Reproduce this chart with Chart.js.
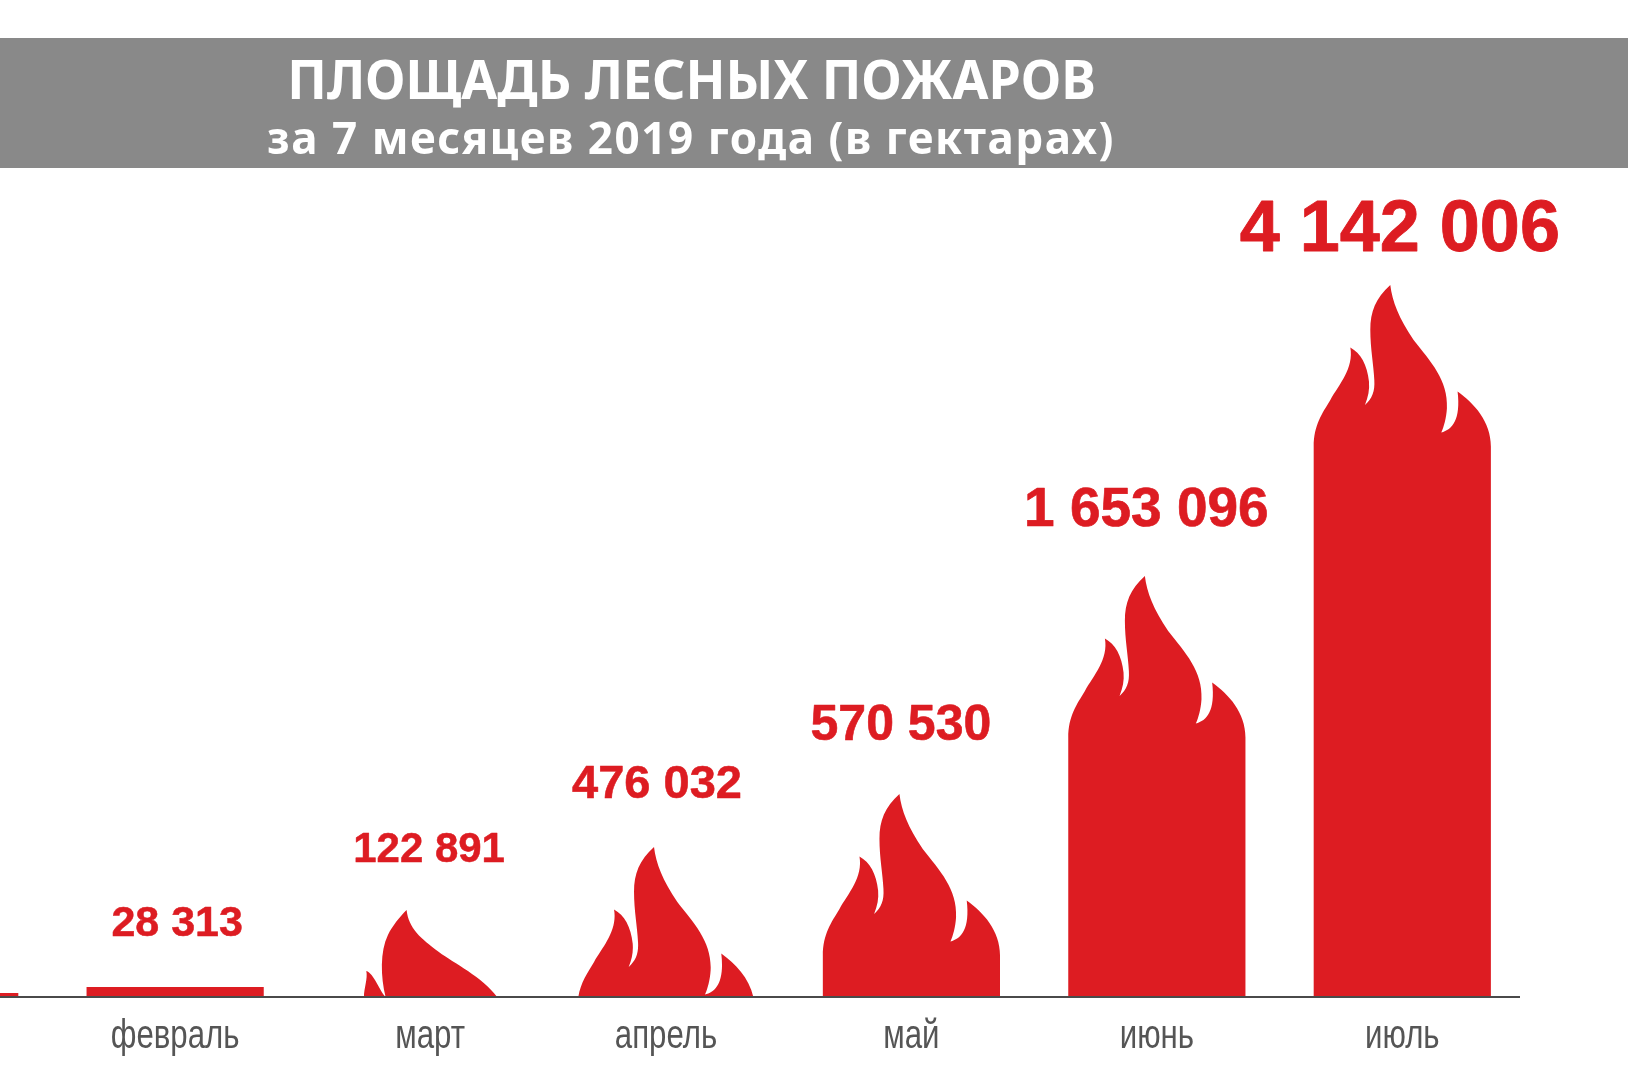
<!DOCTYPE html>
<html>
<head>
<meta charset="utf-8">
<style>
    html, body { margin: 0; padding: 0; background: #fff; overflow: hidden; }
    /* the picture is cropped on the left: January only just shows, so the canvas hangs off the page */
    #chart { position: absolute; left: -193px; top: 0; }
</style>
<script src="https://cdn.jsdelivr.net/npm/chart.js@4/dist/chart.umd.js"></script>
</head>
<body>
<canvas id="chart" width="1821" height="1080"></canvas>
<script>
// DATA
const months = ['январь', 'февраль', 'март', 'апрель', 'май', 'июнь', 'июль'];
// printed numbers, hectares (January's number is cropped out of the picture)
const areaHectares = [null, 28313, 122891, 476032, 570530, 1653096, 4142006];
// height of each flame: it is not to scale with the printed numbers
const flameLevels = [4, 10, 87, 150, 203, 421, 712];
const titleLines = ['ПЛОЩАДЬ ЛЕСНЫХ ПОЖАРОВ', 'за 7 месяцев 2019 года (в гектарах)'];

// STYLE
const RED = '#dd1c22';
const GREY = '#555555';
const CANVAS_LEFT = 193;
const labelSizes = [0, 43, 42, 47, 50, 55, 72];
const labelShift = [0, 2, 8.5, -9, -10.5, -10.5, -2.5];
const labelGap = [0, 51, 48, 49, 54, 50, 34];
const tickShift = [0, 0, 9.5, 0, 0, 0, 0];

// flame crown, in units of 1/532 of a bar width, origin on the bar centre at the tip height
function crownPath(ctx, bottom) {
    ctx.moveTo(-266, bottom);
    ctx.lineTo(-266, 485);
    ctx.bezierCurveTo(-266, 420, -240, 385, -216, 345);
    ctx.bezierCurveTo(-190, 300, -145, 250, -156, 188);
    ctx.bezierCurveTo(-125, 205, -105, 240, -100, 290);
    ctx.bezierCurveTo(-98, 315, -102, 335, -112, 360);
    ctx.bezierCurveTo(-90, 340, -82, 320, -84, 285);
    ctx.bezierCurveTo(-86, 240, -96, 190, -96, 135);
    ctx.bezierCurveTo(-96, 80, -80, 40, -36, 0);
    ctx.bezierCurveTo(-30, 50, -10, 100, 34, 165);
    ctx.bezierCurveTo(85, 230, 138, 285, 134, 370);
    ctx.bezierCurveTo(132, 400, 125, 425, 117, 443);
    ctx.bezierCurveTo(150, 435, 176, 405, 166, 320);
    ctx.bezierCurveTo(215, 355, 266, 410, 266, 485);
    ctx.lineTo(266, bottom);
    ctx.closePath();
}

// the low flame of march has its own outline
function lowFlamePath(ctx, bottom) {
    ctx.moveTo(-42, 0);
    ctx.bezierCurveTo(-36, 55, 0, 85, 55, 126);
    ctx.bezierCurveTo(100, 160, 185, 200, 230, bottom);
    ctx.lineTo(-105, bottom);
    ctx.bezierCurveTo(-120, 200, -122, 125, -98, 75);
    ctx.bezierCurveTo(-85, 48, -62, 20, -42, 0);
    ctx.closePath();
    ctx.moveTo(-105, bottom);
    ctx.bezierCurveTo(-125, 240, -140, 190, -163, 183);
    ctx.bezierCurveTo(-158, 205, -170, 235, -170, bottom);
    ctx.closePath();
}

const flamePlugin = {
    id: 'flames',
    beforeDatasetDraw(chart, args) {
        const ctx = chart.ctx;
        chart.getDatasetMeta(args.index).data.forEach((bar) => {
            const {x, y, base, width} = bar.getProps(['x', 'y', 'base', 'width'], true);
            const height = base - y;
            ctx.save();
            ctx.fillStyle = RED;
            if (height < 30) {
                ctx.fillRect(x - width / 2, y, width, height);
            } else {
                ctx.beginPath();
                ctx.rect(x - width / 2 - 5, y, width + 10, height);
                ctx.clip();
                const unit = width / 532;
                ctx.translate(x, y);
                ctx.scale(unit, unit);
                ctx.beginPath();
                if (height < 100) {
                    lowFlamePath(ctx, height / unit);
                } else {
                    crownPath(ctx, Math.max(height / unit, 485));
                }
                ctx.fill();
            }
            ctx.restore();
        });
        return false;
    },
};

const labelPlugin = {
    id: 'valueLabels',
    afterDatasetsDraw(chart) {
        const ctx = chart.ctx;
        const bars = chart.getDatasetMeta(0).data;
        ctx.save();
        ctx.fillStyle = RED;
        ctx.strokeStyle = RED;
        ctx.lineJoin = 'round';
        ctx.textAlign = 'center';
        ctx.textBaseline = 'alphabetic';
        areaHectares.forEach((value, i) => {
            if (value === null) {
                return;
            }
            const text = String(value).replace(/\B(?=(\d{3})+$)/g, ' ');
            ctx.font = 'bold ' + labelSizes[i] + 'px "Liberation Sans"';
            ctx.lineWidth = labelSizes[i] * 0.012;
            ctx.fillText(text, bars[i].x + labelShift[i], bars[i].y - labelGap[i]);
            ctx.strokeText(text, bars[i].x + labelShift[i], bars[i].y - labelGap[i]);
        });
        ctx.restore();
    },
};

// month names are narrower than any installed face, so they are squeezed by hand
const monthPlugin = {
    id: 'monthLabels',
    afterDraw(chart) {
        const ctx = chart.ctx;
        const scale = chart.scales.x;
        ctx.save();
        ctx.fillStyle = GREY;
        ctx.textAlign = 'center';
        ctx.textBaseline = 'alphabetic';
        ctx.font = '40px "Liberation Sans"';
        months.forEach((month, i) => {
            ctx.save();
            ctx.translate(scale.getPixelForTick(i) + tickShift[i], 1048);
            ctx.scale(0.78, 1);
            ctx.fillText(month, 0, 0);
            ctx.restore();
        });
        ctx.restore();
    },
};

const headerPlugin = {
    id: 'header',
    beforeDraw(chart) {
        const ctx = chart.ctx;
        ctx.save();
        ctx.fillStyle = '#898989';
        ctx.fillRect(0, 38, chart.width, 130);
        ctx.fillStyle = '#ffffff';
        ctx.textAlign = 'center';
        ctx.textBaseline = 'alphabetic';
        ctx.save();
        ctx.translate(CANVAS_LEFT + 691.5, 99);
        ctx.scale(0.963, 1);
        ctx.font = 'bold 54px "Noto Sans"';
        ctx.fillText(titleLines[0], 0, 0);
        ctx.restore();
        ctx.font = 'bold 44px "Noto Sans"';
        ctx.letterSpacing = '1.55px';
        ctx.fillText(titleLines[1], CANVAS_LEFT + 691, 154);
        ctx.restore();
    },
};

const baselinePlugin = {
    id: 'baseline',
    afterDatasetsDraw(chart) {
        const ctx = chart.ctx;
        const y = chart.scales.x.top;
        ctx.save();
        ctx.strokeStyle = '#4a4a4a';
        ctx.lineWidth = 2;
        ctx.beginPath();
        ctx.moveTo(0, y);
        ctx.lineTo(CANVAS_LEFT + 1520, y);
        ctx.stroke();
        ctx.restore();
    },
};

new Chart(document.getElementById('chart').getContext('2d'), {
    type: 'bar',
    data: {
        labels: months,
        datasets: [
            {
                data: flameLevels,
                backgroundColor: RED,
                barPercentage: 0.722,
                categoryPercentage: 1,
            },
        ],
    },
    options: {
        responsive: false,
        animation: false,
        devicePixelRatio: 1,
        layout: {padding: {left: 0, right: 103, top: 0, bottom: 0}},
        plugins: {
            legend: {display: false},
            tooltip: {enabled: false},
        },
        scales: {
            x: {
                afterFit: (scale) => { scale.height = 83; },
                grid: {display: false},
                border: {display: false},
                ticks: {display: false},
            },
            y: {
                display: false,
                min: 0,
                max: 997,
            },
        },
    },
    plugins: [headerPlugin, flamePlugin, baselinePlugin, labelPlugin, monthPlugin],
});
</script>
</body>
</html>
